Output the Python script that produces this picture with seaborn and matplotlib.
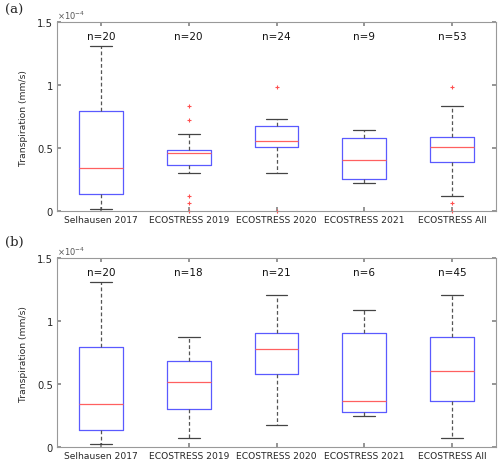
import numpy as np
import pandas as pd
import seaborn as sns
import matplotlib
matplotlib.use('Agg')
import matplotlib.pyplot as plt

sns.set_theme(style='ticks')
plt.rcParams['font.family'] = ['DejaVu Sans']

categories = ['Selhausen 2017', 'ECOSTRESS 2019', 'ECOSTRESS 2020',
              'ECOSTRESS 2021', 'ECOSTRESS All']
ytick_vals = [0, 0.5, 1, 1.5]
ytick_labels = ['0', '0.5', '1', '1.5']

# panel (a): box stats in units of 1e-4 mm/s
counts_a = [20, 20, 24, 9, 53]
whislo_a = [0.016, 0.305, 0.300, 0.225, 0.119]
q1_a = [0.133, 0.366, 0.509, 0.252, 0.392]
med_a = [0.342, 0.459, 0.559, 0.403, 0.509]
q3_a = [0.795, 0.488, 0.678, 0.580, 0.591]
whishi_a = [1.307, 0.612, 0.731, 0.644, 0.837]
fliers_a = [[], [0.0, 0.064, 0.117, 0.726, 0.835], [0.0, 0.989], [],
            [0.0, 0.066, 0.989]]

# panel (b)
counts_b = [20, 18, 21, 6, 45]
whislo_b = [0.021, 0.071, 0.174, 0.246, 0.071]
q1_b = [0.132, 0.298, 0.576, 0.275, 0.367]
med_b = [0.343, 0.518, 0.782, 0.362, 0.605]
q3_b = [0.795, 0.681, 0.908, 0.908, 0.871]
whishi_b = [1.307, 0.871, 1.209, 1.088, 1.209]
fliers_b = [[], [], [], [], []]


def box_values(lo, q1, med, q3, hi, out):
    # repeat the read values so that seaborn's quartiles land on them
    low = [o for o in out if o < q1] + [lo]
    high = [hi] + [o for o in out if o > q3]
    k = max(len(low), len(high))
    low = [lo] * (k - len(low)) + low
    high = high + [hi] * (k - len(high))
    return low + [q1] * k + [med] * k + [q3] + high


def make_df(lo, q1, med, q3, hi, fl):
    rows = []
    for i, c in enumerate(categories):
        for v in box_values(lo[i], q1[i], med[i], q3[i], hi[i], fl[i]):
            rows.append((c, v))
    return pd.DataFrame(rows, columns=['group', 'value'])


df_a = make_df(whislo_a, q1_a, med_a, q3_a, whishi_a, fliers_a)
df_b = make_df(whislo_b, q1_b, med_b, q3_b, whishi_b, fliers_b)

fig = plt.figure(figsize=(5, 4.64), dpi=100)
ax_a = fig.add_axes([0.114, 0.543, 0.878, 0.407])
ax_b = fig.add_axes([0.114, 0.0345, 0.878, 0.407])

for ax, df, counts, lab, ly in [(ax_a, df_a, counts_a, '(a)', 0.978),
                                (ax_b, df_b, counts_b, '(b)', 0.478)]:
    sns.boxplot(data=df, x='group', y='value', order=categories, ax=ax,
                width=0.5, fill=False, whis=1.5, linewidth=0.9,
                boxprops=dict(color='#5a5aff'),
                medianprops=dict(color='#ff6060'),
                whiskerprops=dict(color='#555555', linestyle=(0, (3, 2))),
                capprops=dict(color='#444444'),
                flierprops=dict(marker='+', markeredgecolor='#ff5050',
                                markersize=3.5, markeredgewidth=0.8,
                                clip_on=False))
    ax.set_ylim(0, 1.5)
    ax.set_yticks(ytick_vals)
    ax.set_yticklabels(ytick_labels)
    ax.set_xlabel('')
    ax.set_ylabel('Transpiration (mm/s)', fontsize=6.6, color='#262626',
                  labelpad=6)
    ax.tick_params(direction='in', top=True, right=True, length=3,
                   color='#888888', labelcolor='#262626', pad=3)
    ax.tick_params(axis='x', labelsize=6.6)
    ax.tick_params(axis='y', labelsize=7.2)
    for s in ax.spines.values():
        s.set_color('#999999')
        s.set_linewidth(0.8)
    for i, n in enumerate(counts):
        ax.text(i, 1.39, 'n=%d' % n, ha='center', va='center', fontsize=7.5,
                color='#111111')
    ax.text(0.0, 1.005, r'$\times10^{-4}$', transform=ax.transAxes,
            ha='left', va='bottom', fontsize=6, color='#555555')
    fig.text(0.01, ly, lab, ha='left', va='center', fontsize=9.5,
             family='DejaVu Serif')

fig.savefig('out.png', dpi=100)
